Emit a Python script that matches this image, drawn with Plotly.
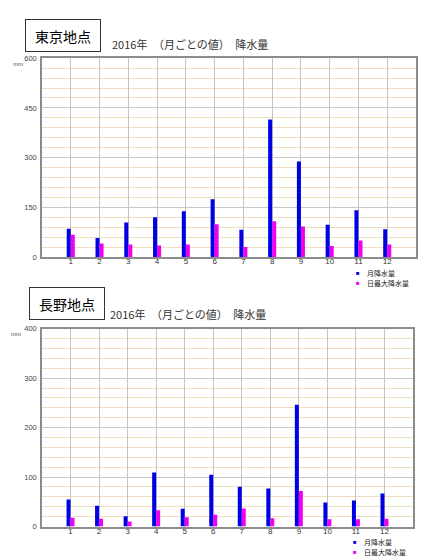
import plotly.graph_objects as go

W, H = 429, 556

months = list(range(1, 13))
month_labels = [str(m) for m in months]

# 東京 2016
tokyo_monthly = [85, 57, 104, 120, 138, 174, 82, 415, 288, 97, 141, 84]
tokyo_daily_max = [67, 41, 38, 35, 38, 99, 30, 108, 92, 33, 50, 38]

# 長野 2016
nagano_monthly = [54.5, 42, 21, 109.5, 36, 105, 80.5, 77, 246.5, 48.5, 52.5, 67]
nagano_daily_max = [18, 16, 10, 33, 19, 24, 36.5, 17, 72, 14.5, 14.5, 16]

series_names = ['月降水量', '日最大降水量']
colors = ['#0000e6', '#f000f0']
title_text = '2016年　（月ごとの値）　降水量'
stations = ['東京地点', '長野地点']

JP = 'Noto Sans CJK JP'
LAT = 'Liberation Sans, Arial, sans-serif'


def px(x):
    return x / W


def py(y):
    return 1 - y / H


fig = go.Figure()

for i, (monthly, dmax) in enumerate([(tokyo_monthly, tokyo_daily_max),
                                     (nagano_monthly, nagano_daily_max)]):
    xa = 'x' if i == 0 else 'x2'
    ya = 'y' if i == 0 else 'y2'
    fig.add_bar(x=months, y=monthly, name=series_names[0], marker_color=colors[0],
                marker_line_width=0, xaxis=xa, yaxis=ya, showlegend=False)
    fig.add_bar(x=months, y=dmax, name=series_names[1], marker_color=colors[1],
                marker_line_width=0, xaxis=xa, yaxis=ya, showlegend=False)

xcommon = dict(range=[0, 13], tickvals=months, ticktext=month_labels, showgrid=True,
               gridcolor='#c4c4c4', gridwidth=1, zeroline=False, showline=True,
               linecolor='#8c8c8c', linewidth=1.5, mirror=True, ticks='',
               ticklabelstandoff=-4,
               tickfont=dict(family=LAT, size=8, color='#333333'))
ycommon = dict(showgrid=True, gridcolor='#c8c8c8', gridwidth=1, zeroline=False,
               showline=True, linecolor='#8c8c8c', linewidth=1.5, mirror=True, ticks='',
               tickfont=dict(family=LAT, size=7.5, color='#444444'), ticklabelstandoff=2)
minor_grid = dict(showgrid=True, gridcolor='#f0dfbd', gridwidth=1)

fig.update_layout(
    width=W, height=H, margin=dict(l=0, r=0, t=0, b=0),
    paper_bgcolor='white', plot_bgcolor='white',
    barmode='group', bargap=0.72, bargroupgap=0,
    xaxis=dict(domain=[px(34), px(408)], anchor='y', **xcommon),
    yaxis=dict(domain=[py(249), py(47)], anchor='x', range=[0, 600], dtick=150,
               minor=dict(dtick=30, **minor_grid), **ycommon),
    xaxis2=dict(domain=[px(34), px(405)], anchor='y2', **xcommon),
    yaxis2=dict(domain=[py(523), py(322)], anchor='x2', range=[0, 400], dtick=100,
                minor=dict(dtick=20, **minor_grid), **ycommon),
)

# station boxes, titles, unit labels, legends
boxes = [(55, 23.5), (59, 296)]
titles = [(101.5, 32.5), (99.5, 307)]
units = [(10, 53), (8, 327)]
legends = [(350, 265.5, 275), (347, 539, 548.5)]

for i in range(2):
    bx, by = boxes[i]
    fig.add_annotation(x=px(bx), y=py(by), xref='paper', yref='paper', text=stations[i],
                       showarrow=False, xanchor='center', yanchor='middle', width=74, height=31,
                       bordercolor='#333333', borderwidth=1, borderpad=0, bgcolor='white',
                       font=dict(family=JP, size=14, color='black'))
    tx, ty = titles[i]
    fig.add_annotation(x=px(tx), y=py(ty), xref='paper', yref='paper', text=title_text,
                       showarrow=False, xanchor='left', yanchor='middle',
                       font=dict(family=JP, size=11, color='#333333'))
    ux, uy = units[i]
    fig.add_annotation(x=px(ux), y=py(uy), xref='paper', yref='paper', text='mm',
                       showarrow=False, xanchor='center', yanchor='middle',
                       font=dict(family=LAT, size=6, color='#555555'))
    lx, ly1, ly2 = legends[i]
    for ly, name, col in [(ly1, series_names[0], colors[0]), (ly2, series_names[1], colors[1])]:
        fig.add_annotation(x=px(lx), y=py(ly), xref='paper', yref='paper', text='■',
                           showarrow=False, xanchor='center', yanchor='middle', borderpad=0,
                           font=dict(family=LAT, size=6, color=col))
        fig.add_annotation(x=px(lx + 8), y=py(ly), xref='paper', yref='paper', text=name,
                           showarrow=False, xanchor='left', yanchor='middle', borderpad=0,
                           font=dict(family=JP, size=7, color='#222222'))

fig.write_html('out.html')
